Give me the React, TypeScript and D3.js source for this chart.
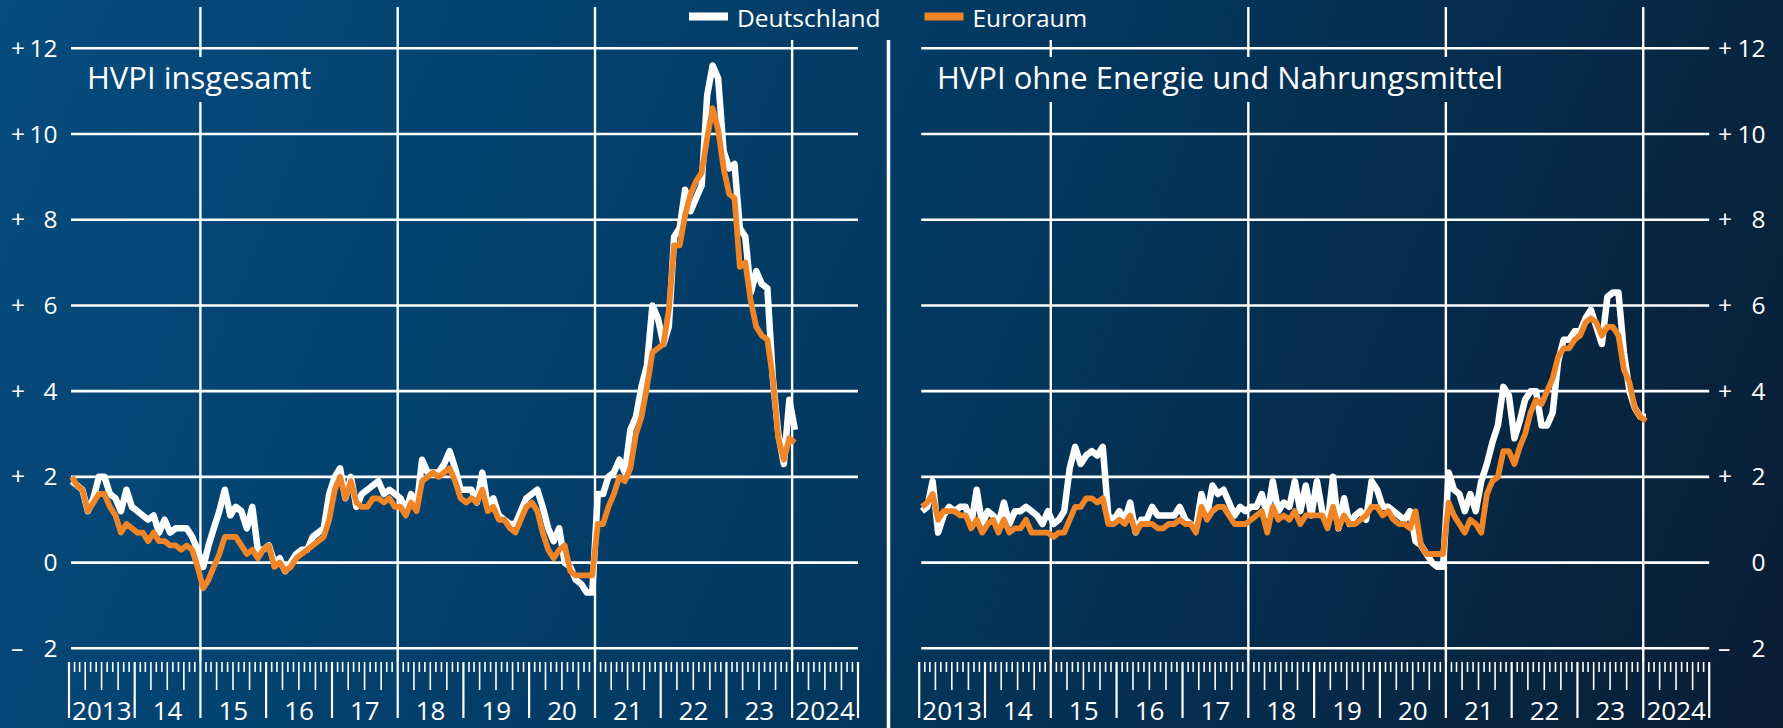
import React from 'react';
import * as d3 from 'd3';

const W = 1783;
const H = 728;

// Monthly observations Jan 2013 – Jan 2024 (yoy change in %)
const firstMonth = new Date(2013, 0, 1);
const lastMonthExcl = new Date(2024, 1, 1);

const deHeadline = [
  1.9, 1.8, 1.7, 1.2, 1.5, 2.0, 2.0, 1.6, 1.5, 1.2, 1.7, 1.3,
  1.2, 1.1, 1.0, 1.1, 0.7, 1.0, 0.7, 0.8, 0.8, 0.8, 0.6, 0.3,
  -0.1, 0.4, 0.8, 1.2, 1.7, 1.1, 1.3, 1.2, 0.8, 1.3, 0.3, 0.3,
  0.4, 0.0, 0.1, -0.2, 0.0, 0.2, 0.3, 0.3, 0.6, 0.7, 0.8, 1.6,
  2.0, 2.2, 1.5, 2.0, 1.3, 1.6, 1.7, 1.8, 1.9, 1.6, 1.7, 1.6,
  1.5, 1.2, 1.6, 1.3, 2.4, 2.1, 2.1, 2.1, 2.3, 2.6, 2.2, 1.7,
  1.7, 1.7, 1.4, 2.1, 1.3, 1.5, 1.1, 1.0, 0.9, 0.9, 1.2, 1.5,
  1.6, 1.7, 1.3, 0.8, 0.5, 0.8, 0.0, -0.1, -0.4, -0.5, -0.7, -0.7,
  1.6, 1.6, 2.0, 2.1, 2.4, 2.1, 3.1, 3.4, 4.1, 4.6, 6.0, 5.7,
  5.1, 5.5, 7.6, 7.8, 8.7, 8.2, 8.5, 8.8, 10.9, 11.6, 11.3, 9.6,
  9.2, 9.3, 7.8, 7.6, 6.3, 6.8, 6.5, 6.4, 4.3, 3.0, 2.3, 3.8,
  3.1,
];

const eaHeadline = [
  2.0, 1.8, 1.7, 1.2, 1.4, 1.6, 1.6, 1.3, 1.1, 0.7, 0.9, 0.8,
  0.7, 0.7, 0.5, 0.7, 0.5, 0.5, 0.4, 0.4, 0.3, 0.4, 0.3, -0.1,
  -0.6, -0.4, -0.1, 0.2, 0.6, 0.6, 0.6, 0.4, 0.2, 0.3, 0.1, 0.3,
  0.4, -0.1, 0.0, -0.2, -0.1, 0.1, 0.2, 0.3, 0.4, 0.5, 0.6, 1.0,
  1.7, 2.0, 1.5, 1.9, 1.4, 1.3, 1.3, 1.5, 1.5, 1.4, 1.5, 1.3,
  1.3, 1.1, 1.4, 1.2, 1.9, 2.0, 2.1, 2.0, 2.1, 2.2, 1.9, 1.5,
  1.4, 1.5, 1.4, 1.7, 1.2, 1.3, 1.0, 1.0, 0.8, 0.7, 1.0, 1.3,
  1.4, 1.2, 0.7, 0.3, 0.1, 0.3, 0.4, -0.2, -0.3, -0.3, -0.3, -0.3,
  0.9, 0.9, 1.3, 1.6, 2.0, 1.9, 2.2, 3.0, 3.4, 4.1, 4.9, 5.0,
  5.1, 5.9, 7.4, 7.4, 8.1, 8.6, 8.9, 9.1, 9.9, 10.6, 10.1, 9.2,
  8.6, 8.5, 6.9, 7.0, 6.1, 5.5, 5.3, 5.2, 4.3, 2.9, 2.4, 2.9,
  2.8,
];

const deCore = [
  1.2, 1.3, 1.9, 0.7, 1.1, 1.3, 1.2, 1.3, 1.3, 0.9, 1.7, 0.9,
  1.2, 1.1, 0.9, 1.4, 0.9, 1.2, 1.2, 1.3, 1.2, 1.1, 0.9, 1.2,
  0.9, 1.0, 1.2, 2.2, 2.7, 2.3, 2.5, 2.6, 2.5, 2.7, 1.1, 1.0,
  1.2, 1.0, 1.4, 0.7, 1.0, 1.0, 1.3, 1.1, 1.1, 1.1, 1.1, 1.3,
  1.0, 0.9, 0.8, 1.6, 1.1, 1.8, 1.6, 1.7, 1.4, 1.1, 1.3, 1.2,
  1.3, 1.3, 1.6, 1.1, 1.9, 1.2, 1.4, 1.3, 1.9, 1.2, 1.8, 1.1,
  1.9, 1.2, 0.9, 2.0, 0.8, 1.5, 0.9, 1.1, 1.2, 1.0, 1.9, 1.7,
  1.3, 1.3, 1.2, 1.1, 1.0, 1.2, 0.5, 0.4, 0.2, 0.0, -0.1, -0.1,
  2.1, 1.7, 1.6, 1.2, 1.6, 1.2, 1.9, 2.3, 2.8, 3.2, 4.1, 3.9,
  2.9, 3.3, 3.8, 4.0, 4.0, 3.2, 3.2, 3.5, 4.7, 5.2, 5.2, 5.4,
  5.4, 5.7, 5.9, 5.5, 5.1, 6.2, 6.3, 6.3, 4.9, 4.0, 3.6, 3.4,
  3.4,
];

const eaCore = [
  1.3, 1.4, 1.6, 1.0, 1.2, 1.2, 1.2, 1.1, 1.1, 0.8, 1.0, 0.7,
  0.9, 1.0, 0.7, 1.0, 0.7, 0.8, 0.8, 1.0, 0.7, 0.7, 0.7, 0.7,
  0.6, 0.7, 0.7, 1.0, 1.3, 1.3, 1.5, 1.5, 1.4, 1.5, 0.9, 0.9,
  1.0, 0.9, 1.1, 0.7, 0.9, 0.9, 0.9, 0.8, 0.8, 0.9, 0.9, 1.0,
  0.9, 0.9, 0.7, 1.3, 1.0, 1.2, 1.3, 1.3, 1.1, 0.9, 0.9, 0.9,
  1.0, 1.1, 1.2, 0.7, 1.3, 1.0, 1.1, 1.0, 1.2, 0.9, 1.1, 1.1,
  1.1, 1.1, 0.8, 1.3, 0.8, 1.1, 0.9, 0.9, 1.0, 1.1, 1.3, 1.3,
  1.1, 1.2, 1.0, 0.9, 0.9, 0.8, 1.2, 0.4, 0.2, 0.2, 0.2, 0.2,
  1.4, 1.1, 0.9, 0.7, 1.0, 0.9, 0.7, 1.6, 1.9, 2.0, 2.6, 2.6,
  2.3, 2.7, 3.0, 3.5, 3.8, 3.7, 4.0, 4.3, 4.8, 5.0, 5.0, 5.2,
  5.3, 5.6, 5.7, 5.6, 5.3, 5.5, 5.5, 5.3, 4.5, 4.2, 3.6, 3.4,
  3.3,
];

const yTickValues = [12, 10, 8, 6, 4, 2, 0, -2];
const yearLabels = ['2013', '14', '15', '16', '17', '18', '19', '20', '21', '22', '23', '2024'];
const gridYears = [2015, 2018, 2021, 2024];
const legendItems = [
  { label: 'Deutschland', color: '#ffffff' },
  { label: 'Euroraum', color: '#ef8526' },
];

const FONT = "'Open Sans', 'Noto Sans', sans-serif";
const ORANGE = '#ef8526';

const yScale = d3.scaleLinear().domain([-2, 12]).range([648.3, 48.3]);
const months = d3.timeMonth.range(firstMonth, lastMonthExcl);

type PanelProps = {
  x0: number;
  x1: number;
  title: string;
  titleX: number;
  titleBox: [number, number];
  de: number[];
  ea: number[];
  labelSide: 'left' | 'right';
  legendGap: [number, number];
};

function Panel({ x0, x1, title, titleX, titleBox, de, ea, labelSide, legendGap }: PanelProps) {
  const x = d3.scaleTime().domain([new Date(2013, 0, 1), new Date(2025, 0, 1)]).range([x0, x1]);
  const mid = (d: Date) => (x(d) + x(d3.timeMonth.offset(d, 1))) / 2;
  const line = d3
    .line<number>()
    .x((_, i) => mid(months[i]))
    .y((v) => yScale(v));
  const ticks = d3.timeMonth.range(new Date(2013, 0, 1), d3.timeMonth.offset(new Date(2025, 0, 1), 1));
  const years = d3.timeYear.range(new Date(2013, 0, 1), new Date(2025, 0, 1));
  const rulerTop = 662;
  return (
    <g>
      {/* horizontal grid */}
      {yTickValues.map((v) => (
        <line key={v} x1={x0 + 2} x2={x1} y1={yScale(v)} y2={yScale(v)} stroke="#ffffff" strokeWidth={2.6} />
      ))}
      {/* vertical grid */}
      {gridYears.map((yr) => {
        const gx = x(new Date(yr, 0, 1));
        const top = gx > legendGap[0] && gx < legendGap[1] ? 40 : 7;
        return <line key={yr} x1={gx} x2={gx} y1={top} y2={rulerTop} stroke="#ffffff" strokeWidth={2.4} />;
      })}
      {/* title box covering grid */}
      <rect x={titleBox[0]} y={57} width={titleBox[1] - titleBox[0]} height={45} fill="url(#bgGrad)" />
      <text x={titleX} y={88.5} fill="#ffffff" fontFamily={FONT} fontSize={31}>
        {title}
      </text>
      {/* ruler */}
      {ticks.map((t, i) => {
        const m = t.getMonth();
        const len = m === 0 ? 56 : m % 3 === 0 ? 28 : 10;
        return (
          <line
            key={i}
            x1={x(t)}
            x2={x(t)}
            y1={rulerTop}
            y2={rulerTop + len}
            stroke="#ffffff"
            strokeWidth={m === 0 ? 2.2 : 1.6}
          />
        );
      })}
      {years.map((yr, i) => {
        const cx = (x(yr) + x(d3.timeYear.offset(yr, 1))) / 2;
        return (
          <text key={i} x={cx} y={720} fill="#ffffff" fontFamily={FONT} fontSize={26} textAnchor="middle">
            {yearLabels[i]}
          </text>
        );
      })}
      {/* y labels */}
      {yTickValues.map((v) => {
        const sign = v > 0 ? '+' : v < 0 ? '\u2013' : '';
        const num = String(Math.abs(v));
        const signX = labelSide === 'left' ? 11 : 1718;
        const numX = labelSide === 'left' ? 57.5 : 1765.5;
        return (
          <g key={v} fill="#ffffff" fontFamily={FONT} fontSize={24.5}>
            <text x={signX} y={yScale(v) + 8.5}>{sign}</text>
            <text x={numX} y={yScale(v) + 8.5} textAnchor="end">{num}</text>
          </g>
        );
      })}
      {/* data */}
      <path d={line(de) || ''} fill="none" stroke="#ffffff" strokeWidth={6.5} strokeLinejoin="round" />
      <path d={line(ea) || ''} fill="none" stroke={ORANGE} strokeWidth={5.8} strokeLinejoin="round" />
    </g>
  );
}

export default function App() {
  return (
    <svg width={W} height={H} style={{ position: 'absolute', left: 0, top: 0, display: 'block' }}>
      <defs>
        <linearGradient id="bgGrad" gradientUnits="userSpaceOnUse" x1={0} y1={0} x2={W} y2={H}>
          <stop offset="0" stopColor="#064c7e" />
          <stop offset="0.5" stopColor="#023961" />
          <stop offset="1" stopColor="#0a1d33" />
        </linearGradient>
      </defs>
      <rect x={0} y={0} width={W} height={H} fill="url(#bgGrad)" />
      <Panel
        x0={69}
        x1={858}
        title="HVPI insgesamt"
        titleX={87}
        titleBox={[80, 322]}
        de={deHeadline}
        ea={eaHeadline}
        labelSide="left"
        legendGap={[680, 1100]}
      />
      <Panel
        x0={919.2}
        x1={1709.2}
        title="HVPI ohne Energie und Nahrungsmittel"
        titleX={937}
        titleBox={[930, 1515]}
        de={deCore}
        ea={eaCore}
        labelSide="right"
        legendGap={[680, 1100]}
      />
      <line x1={888.5} x2={888.5} y1={40} y2={H} stroke="#ffffff" strokeWidth={3.5} />
      {/* legend */}
      {legendItems.map((it, i) => {
        const sx = i === 0 ? 689 : 924.5;
        return (
          <g key={it.label}>
            <rect x={sx} y={12.5} width={39} height={8} fill={it.color} />
            <text x={sx + 48} y={26.5} fill="#ffffff" fontFamily={FONT} fontSize={24.5}>
              {it.label}
            </text>
          </g>
        );
      })}
    </svg>
  );
}
